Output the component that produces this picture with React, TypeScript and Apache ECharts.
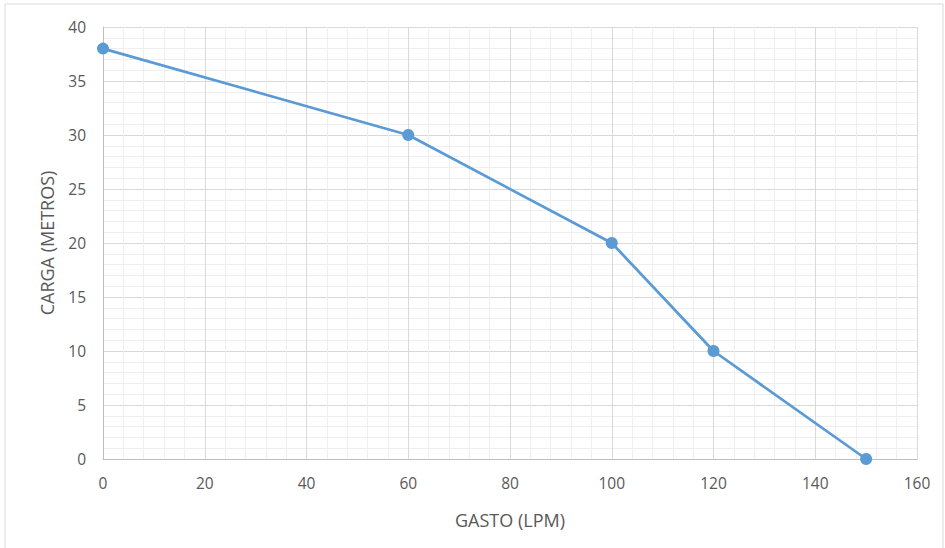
import React, { useEffect, useRef } from "react";
import * as echarts from "echarts";

const gastoValues = [0, 60, 100, 120, 150];
const cargaValues = [38, 30, 20, 10, 0];
const xAxisName = "GASTO (LPM)";
const yAxisName = "CARGA (METROS)";

export default function App() {
  const ref = useRef<HTMLDivElement>(null);
  useEffect(() => {
    if (!ref.current) return;
    const chart = echarts.init(ref.current, undefined, { renderer: "svg" });
    const data = gastoValues.map((g, i) => [g, cargaValues[i]]);
    const font = "'Open Sans', 'Liberation Sans', sans-serif";
    chart.setOption({
      animation: false,
      backgroundColor: "#ffffff",
      graphic: [
        {
          type: "rect",
          shape: { x: 5, y: 4, width: 938, height: 550 },
          style: { fill: "none", stroke: "#D9D9D9", lineWidth: 1 },
          silent: true,
          z: -1,
        },
      ],
      grid: { left: 103, right: 28, top: 27, bottom: 89, containLabel: false },
      xAxis: {
        type: "value",
        min: 0,
        max: 160,
        interval: 20,
        name: xAxisName,
        nameLocation: "middle",
        nameGap: 52,
        nameTextStyle: { color: "#595959", fontSize: 18, fontFamily: font },
        axisLine: { show: true, lineStyle: { color: "#BFBFBF", width: 1 } },
        axisTick: { show: false },
        axisLabel: { color: "#595959", fontSize: 15.5, fontFamily: font, margin: 16 },
        splitLine: { show: true, lineStyle: { color: "#D9D9D9", width: 1 } },
        minorTick: { show: false, splitNumber: 5 },
        minorSplitLine: { show: true, lineStyle: { color: "#EFEFEF", width: 1 } },
      },
      yAxis: {
        type: "value",
        min: 0,
        max: 40,
        interval: 5,
        name: yAxisName,
        nameLocation: "middle",
        nameGap: 47,
        nameRotate: 90,
        nameTextStyle: { color: "#595959", fontSize: 18, fontFamily: font },
        axisLine: { show: true, lineStyle: { color: "#BFBFBF", width: 1 } },
        axisTick: { show: false },
        axisLabel: { color: "#595959", fontSize: 15.5, fontFamily: font, margin: 17 },
        splitLine: { show: true, lineStyle: { color: "#D9D9D9", width: 1 } },
        minorTick: { show: false, splitNumber: 5 },
        minorSplitLine: { show: true, lineStyle: { color: "#EFEFEF", width: 1 } },
      },
      series: [
        {
          type: "line",
          data,
          symbol: "circle",
          symbolSize: 12,
          lineStyle: { color: "#5B9BD5", width: 2.75 },
          itemStyle: { color: "#5B9BD5" },
          clip: false,
        },
      ],
    });
    return () => chart.dispose();
  }, []);
  return (
    <div
      ref={ref}
      style={{ position: "fixed", left: 0, top: 0, width: 945, height: 548 }}
    />
  );
}
